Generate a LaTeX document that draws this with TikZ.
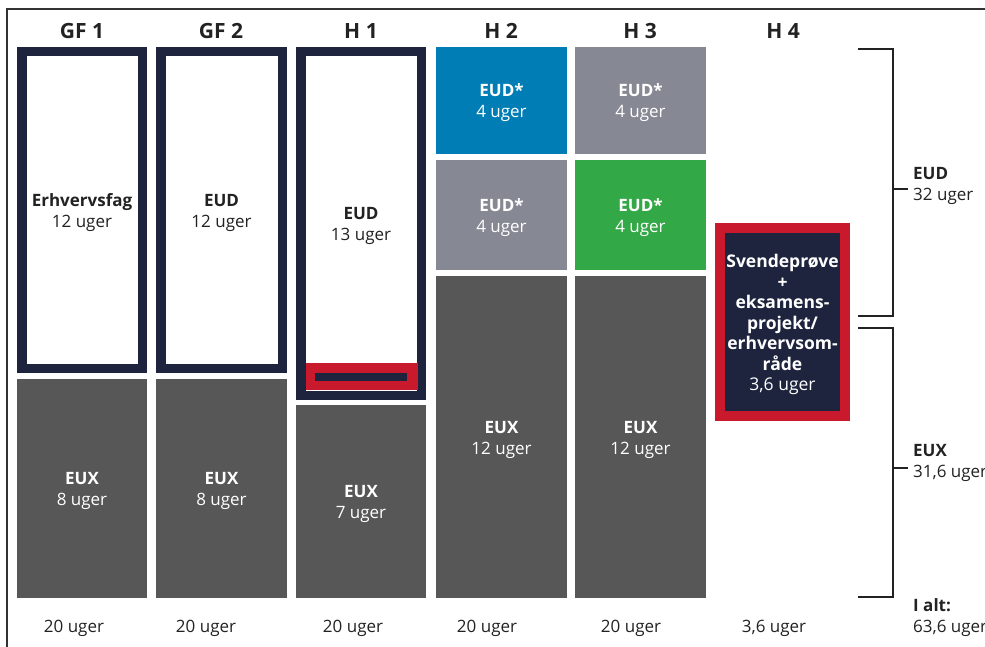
\documentclass[tikz,border=0pt]{standalone}
\usepackage{fontspec}
\setmainfont{Open Sans}
\definecolor{navy}{RGB}{30,35,62}
\definecolor{euxgrey}{RGB}{87,87,87}
\definecolor{eudgrey}{RGB}{134,136,148}
\definecolor{eudblue}{RGB}{0,125,180}
\definecolor{eudgreen}{RGB}{51,168,70}
\definecolor{eudred}{RGB}{200,25,45}
\definecolor{txt}{RGB}{34,34,34}
\definecolor{linec}{RGB}{50,50,50}
\tikzset{
  base/.style={inner sep=0pt, outer sep=0pt},
  cell/.style={base, anchor=north west},
  framebox/.style={base, anchor=north west, draw=navy, line width=9.5pt, fill=white},
  ctext/.style={inner sep=0pt, outer sep=0pt, align=center, font=\fontsize{17}{21}\selectfont, text=white},
  dtext/.style={ctext, text=txt},
  head/.style={inner sep=0pt, font=\fontsize{21}{24}\selectfont\bfseries, text=txt},
  foot/.style={inner sep=0pt, font=\fontsize{17}{20}\selectfont, text=txt},
  side/.style={inner sep=0pt, anchor=north west, align=left, font=\fontsize{17}{21}\selectfont, text=txt},
  bracket/.style={draw=txt, line width=1.5pt},
}
\begin{document}
\begin{tikzpicture}[x=1pt,y=-1pt]
\useasboundingbox (0,0) rectangle (985,647);
% outer frame
\draw[linec, line width=1.3pt] (7,647) -- (7,9) -- (985,9);
% headers
\node[head] (hgf1) at (82,31) {GF 1};
\node[head] (hgf2) at (221,31) {GF 2};
\node[head] (hh1) at (361,31) {H 1};
\node[head] (hh2) at (501,31) {H 2};
\node[head] (hh3) at (640,31) {H 3};
\node[head] (hh4) at (783,31) {H 4};
% GF1
\node[framebox, minimum width=120.5pt, minimum height=316.5pt] (gf1d) at (21.75,51.75) {};
\node[cell, fill=euxgrey, minimum width=130pt, minimum height=219pt] (gf1x) at (17,379) {};
% GF2
\node[framebox, minimum width=121.5pt, minimum height=316.5pt] (gf2d) at (160.75,51.75) {};
\node[cell, fill=euxgrey, minimum width=131pt, minimum height=219pt] (gf2x) at (156,379) {};
% H1
\node[framebox, minimum width=120.5pt, minimum height=343.5pt] (h1d) at (300.75,51.75) {};
\node[cell, fill=eudred, minimum width=112pt, minimum height=27pt] (h1r) at (306,363) {};
\node[cell, fill=navy, minimum width=92pt, minimum height=8pt] (h1b) at (315,373) {};
\node[cell, fill=euxgrey, minimum width=130pt, minimum height=193pt] (h1x) at (296,405) {};
% H2
\node[cell, fill=eudblue, minimum width=131pt, minimum height=107pt] (h2a) at (436,47) {};
\node[cell, fill=eudgrey, minimum width=131pt, minimum height=110pt] (h2b) at (436,160) {};
\node[cell, fill=euxgrey, minimum width=131pt, minimum height=322pt] (h2x) at (436,276) {};
% H3
\node[cell, fill=eudgrey, minimum width=131pt, minimum height=107pt] (h3a) at (575,47) {};
\node[cell, fill=eudgreen, minimum width=131pt, minimum height=110pt] (h3b) at (575,160) {};
\node[cell, fill=euxgrey, minimum width=131pt, minimum height=322pt] (h3x) at (575,276) {};
% H4
\node[cell, draw=eudred, fill=navy, line width=10pt, minimum width=125pt, minimum height=188pt] (h4) at (720,228) {};
% cell texts
\node[dtext] (gf1dt) at ([yshift=-2.5pt]gf1d.center) {\textbf{Erhvervsfag}\\12 uger};
\node[ctext] (gf1xt) at ([yshift=-2.5pt]gf1x.center) {\textbf{EUX}\\8 uger};
\node[dtext] (gf2dt) at ([yshift=-2.5pt]gf2d.center) {\textbf{EUD}\\12 uger};
\node[ctext] (gf2xt) at ([yshift=-2.5pt]gf2x.center) {\textbf{EUX}\\8 uger};
\node[dtext] (h1dt) at ([yshift=-2.5pt]h1d.center) {\textbf{EUD}\\13 uger};
\node[ctext] (h1xt) at ([yshift=-2.5pt]h1x.center) {\textbf{EUX}\\7 uger};
\node[ctext] (h2at) at ([yshift=-2.5pt]h2a.center) {\textbf{EUD*}\\4 uger};
\node[ctext] (h2bt) at ([yshift=-2.5pt]h2b.center) {\textbf{EUD*}\\4 uger};
\node[ctext] (h2xt) at ([yshift=-2.5pt]h2x.center) {\textbf{EUX}\\12 uger};
\node[ctext] (h3at) at ([yshift=-2.5pt]h3a.center) {\textbf{EUD*}\\4 uger};
\node[ctext] (h3bt) at ([yshift=-2.5pt]h3b.center) {\textbf{EUD*}\\4 uger};
\node[ctext] (h3xt) at ([yshift=-2.5pt]h3x.center) {\textbf{EUX}\\12 uger};
\node[ctext, font=\fontsize{17.5}{20.5}\selectfont] (h4t) at ([yshift=-2.5pt]h4.center)
  {\textbf{Svendeprøve}\\\textbf{+}\\\textbf{eksamens-}\\\textbf{projekt/}\\\textbf{erhvervsom-}\\\textbf{råde}\\3,6 uger};
% footers
\node[foot] (fgf1) at (74,628) {20 uger};
\node[foot] (fgf2) at (206,628) {20 uger};
\node[foot] (fh1) at (353,628) {20 uger};
\node[foot] (fh2) at (487,628) {20 uger};
\node[foot] (fh3) at (631,628) {20 uger};
\node[foot] (fh4) at (774,628) {3,6 uger};
% brackets
\coordinate (b1t) at (858,49);
\coordinate (b1tr) at (893,49);
\coordinate (b1br) at (893,316);
\coordinate (b1b) at (858,316);
\coordinate (b1m) at (893,189);
\coordinate (b1e) at (908,189);
\draw[bracket] (b1t) -- (b1tr) -- (b1br) -- (b1b);
\draw[bracket] (b1m) -- (b1e);
\coordinate (b2t) at (858,328);
\coordinate (b2tr) at (893,328);
\coordinate (b2br) at (893,597);
\coordinate (b2b) at (858,597);
\coordinate (b2m) at (893,468);
\coordinate (b2e) at (908,468);
\draw[bracket] (b2t) -- (b2tr) -- (b2br) -- (b2b);
\draw[bracket] (b2m) -- (b2e);
\node[side] (seud) at (913,167) {\textbf{EUD}\\32 uger};
\node[side] (seux) at (913,444) {\textbf{EUX}\\31,6 uger};
\node[side] (salt) at (913,598) {\textbf{I alt:}\\63,6 uger};
\end{tikzpicture}
\end{document}
